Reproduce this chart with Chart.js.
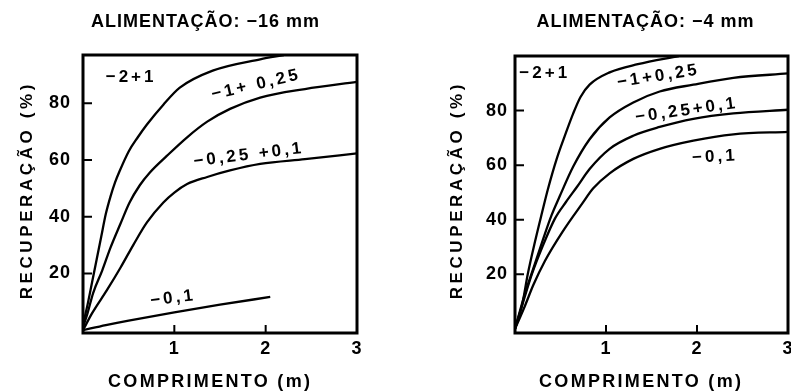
<!DOCTYPE html>
<html>
<head>
<meta charset="utf-8">
<script src="https://cdn.jsdelivr.net/npm/chart.js@4.4.0/dist/chart.umd.min.js"></script>
<style>
  html, body { margin: 0; padding: 0; background: #fff; }
  .wrap { position: relative; width: 791px; height: 391px; }
  #c16 { position: absolute; left: 0; top: 0; }
  #c4  { position: absolute; left: 395px; top: 0; }
</style>
</head>
<body>
<div class="wrap">
  <canvas id="c16" width="395" height="391"></canvas>
  <canvas id="c4" width="396" height="391"></canvas>
</div>
<script>
const ink  = "#000";
const face = "'Liberation Sans', Arial, sans-serif";

const xTitle = "COMPRIMENTO (m)";
const yTitle = "RECUPERAÇÃO (%)";
const xTicks = [1, 2, 3];
const yTicks = [20, 40, 60, 80];

// feed -16 mm, [comprimento m, recuperação %]
const f16_2p1    = [[0,2],[0.05,9],[0.10,17],[0.15,25],[0.20,33],[0.25,41],[0.30,47],[0.35,52],[0.40,56],[0.50,63],[0.60,68],[0.70,72.5],[0.88,79.5],[1.06,85.5],[1.42,91.5],[1.94,95.5],[2.2,97]];
const f16_1p025  = [[0,1],[0.05,6],[0.11,13],[0.21,21],[0.30,29],[0.41,37.5],[0.51,45],[0.62,51],[0.73,55.5],[0.92,61.5],[1.14,68],[1.36,73.5],[1.61,78],[1.94,82],[2.43,85],[3.0,87.5]];
const f16_025p01 = [[0,0],[0.10,6],[0.26,14],[0.41,22],[0.55,30],[0.70,38],[0.88,45],[1.0,48.5],[1.14,51.5],[1.36,54],[1.61,56.3],[1.94,58.6],[2.43,60.3],[3.0,62.3]];
const f16_01     = [[0,0],[0.25,1.8],[0.5,3.4],[1.0,6.3],[1.5,9.0],[2.05,11.7]];

// feed -4 mm
const f4_2p1    = [[0,0],[0.08,9],[0.14,20],[0.22,32],[0.30,43],[0.36,51],[0.46,62.5],[0.55,71],[0.64,79],[0.72,85],[0.82,89.5],[1.04,94],[1.35,97],[1.8,100]];
const f4_1p025  = [[0,0],[0.11,13],[0.20,22],[0.31,33],[0.40,41.5],[0.49,48.5],[0.64,59.5],[0.82,69.5],[1.04,77.5],[1.30,83],[1.59,87],[1.96,89.5],[2.40,92],[3.0,93.6]];
const f4_025p01 = [[0,0],[0.10,11],[0.19,20.5],[0.30,30],[0.44,40.5],[0.56,46.5],[0.68,52],[0.82,58.6],[1.04,66],[1.30,70.8],[1.59,74],[1.96,77],[2.40,79],[3.0,80.3]];
const f4_01     = [[0,0],[0.11,8.5],[0.20,16],[0.33,25],[0.52,35.5],[0.74,46],[0.86,51.5],[1.04,57],[1.30,62.3],[1.59,66],[1.96,69],[2.40,71.3],[3.0,72.2]];

// curve captions: text, then [x, y, rotation deg] in data units
const tags16  = ["−2+1", "−1+ 0,25", "−0,25 +0,1", "−0,1"];
const tagAt16 = [[0.51, 89, 0], [1.88, 86.4, -13], [1.80, 61.7, -7], [0.97, 11.2, -7]];
const tags4   = ["−2+1", "−1+0,25", "−0,25+0,1", "−0,1"];
const tagAt4  = [[0.31, 93.6, 0], [1.56, 92.5, -9], [1.87, 80, -8], [2.18, 63, -3]];

function say(ctx, text, x, y, size, gap, rot) {
  ctx.save();
  ctx.font = "bold " + size + "px " + face;
  ctx.letterSpacing = gap + "px";
  ctx.textAlign = "center";
  ctx.textBaseline = "middle";
  ctx.translate(x, y);
  ctx.rotate(rot * Math.PI / 180);
  ctx.fillText(text, gap / 2, 0);
  ctx.restore();
}

const frame = {
  id: "frame",
  beforeDraw(chart) { chart.ctx.letterSpacing = "1px"; },
  afterDraw(chart, args, o) {
    const { ctx, chartArea: a, scales } = chart;
    ctx.save();
    ctx.strokeStyle = ink;
    ctx.fillStyle = ink;
    ctx.lineWidth = 3;
    ctx.strokeRect(a.left, a.top, a.right - a.left, a.bottom - a.top);
    ctx.lineWidth = 2;
    ctx.beginPath();
    yTicks.forEach(v => {
      const y = scales.y.getPixelForValue(v);
      ctx.moveTo(a.left, y); ctx.lineTo(a.left + 9, y);
    });
    xTicks.forEach(v => {
      const x = scales.x.getPixelForValue(v);
      ctx.moveTo(x, a.bottom); ctx.lineTo(x, a.bottom - 8);
    });
    ctx.stroke();
    o.tags.forEach((t, i) => {
      const [vx, vy, r] = o.at[i];
      say(ctx, t, scales.x.getPixelForValue(vx), scales.y.getPixelForValue(vy), 17, 3, r);
    });
    say(ctx, o.title, o.titleAt[0], o.titleAt[1], 18, 1, 0);
    say(ctx, yTitle, o.yAt[0], o.yAt[1], 17, 3.6, -90);
    say(ctx, xTitle, o.xAt[0], o.xAt[1], 18, 2.3, 0);
    ctx.restore();
  }
};

function panel(id, series, yMin, yMax, lay, captions) {
  const bold = size => ({ family: face, size: size, weight: "bold" });
  return new Chart(document.getElementById(id), {
    type: "line",
    data: {
      datasets: series.map(s => ({
        data: s.map(p => ({ x: p[0], y: p[1] })),
        borderColor: ink, borderWidth: 2.3, pointRadius: 0,
        cubicInterpolationMode: "monotone", fill: false
      }))
    },
    options: {
      responsive: false, animation: false,
      layout: { padding: { left: 0, right: lay.padR, top: lay.padT, bottom: 0 } },
      plugins: {
        legend: { display: false },
        tooltip: { enabled: false },
        frame: captions
      },
      scales: {
        x: {
          type: "linear", min: 0, max: 3,
          afterBuildTicks: s => { s.ticks = xTicks.map(v => ({ value: v })); },
          afterFit: s => { s.height = 58; s.paddingRight = 0; },
          grid: { display: false, drawTicks: false }, border: { display: false },
          ticks: { color: ink, font: bold(18), padding: 5 }
        },
        y: {
          min: yMin, max: yMax,
          afterBuildTicks: s => { s.ticks = yTicks.map(v => ({ value: v })); },
          afterFit: s => { s.width = lay.yW; s.paddingTop = 0; s.paddingBottom = 0; },
          grid: { display: false, drawTicks: false }, border: { display: false },
          ticks: { color: ink, font: bold(18), padding: lay.tickPad }
        }
      }
    },
    plugins: [frame]
  });
}

panel("c16", [f16_2p1, f16_1p025, f16_025p01, f16_01], -1, 97,
  { padR: 38, padT: 55, yW: 83, tickPad: 12 },
  { tags: tags16, at: tagAt16, title: "ALIMENTAÇÃO: −16 mm", titleAt: [205, 22], yAt: [27, 192], xAt: [209, 382] });

panel("c4", [f4_2p1, f4_1p025, f4_025p01, f4_01], -1.5, 100,
  { padR: 3, padT: 56, yW: 120, tickPad: 7 },
  { tags: tags4, at: tagAt4, title: "ALIMENTAÇÃO: −4 mm", titleAt: [250, 22], yAt: [62, 192], xAt: [245, 382] });
</script>
</body>
</html>
